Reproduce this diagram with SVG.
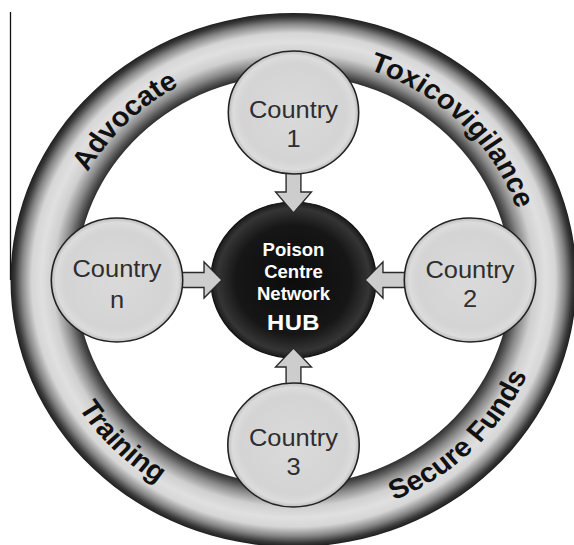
<svg xmlns="http://www.w3.org/2000/svg" width="574" height="545" viewBox="0 0 574 545">
  <defs>
    <radialGradient id="ringGrad" gradientUnits="userSpaceOnUse" cx="0" cy="0" r="267">
      <stop offset="0.768" stop-color="#2e2e2e"/>
      <stop offset="0.785" stop-color="#505050"/>
      <stop offset="0.81" stop-color="#888"/>
      <stop offset="0.85" stop-color="#cfcfcf"/>
      <stop offset="0.89" stop-color="#e0e0e0"/>
      <stop offset="0.925" stop-color="#d6d6d6"/>
      <stop offset="0.96" stop-color="#858585"/>
      <stop offset="0.985" stop-color="#383838"/>
      <stop offset="1" stop-color="#1e1e1e"/>
    </radialGradient>
    <radialGradient id="hubGrad" cx="0.5" cy="0.5" r="0.5">
      <stop offset="0" stop-color="#0c0c0c"/>
      <stop offset="0.7" stop-color="#161616"/>
      <stop offset="0.92" stop-color="#353535"/>
      <stop offset="1" stop-color="#1a1a1a"/>
    </radialGradient>
    <radialGradient id="countryGrad" cx="0.5" cy="0.5" r="0.5">
      <stop offset="0" stop-color="#dadada"/>
      <stop offset="0.8" stop-color="#d4d4d4"/>
      <stop offset="0.93" stop-color="#dcdcdc"/>
      <stop offset="1" stop-color="#bdbdbd"/>
    </radialGradient>
    <path id="pAdvocate" d="M -157,157 A 222 222 0 0 1 -157,-157 A 222 222 0 0 1 157,-157"/>
    <path id="pToxico" d="M -157,-157 A 222 222 0 0 1 157,-157 A 222 222 0 0 1 157,157"/>
    <path id="pTraining" d="M -169.7,-169.7 A 240 240 0 0 0 -169.7,169.7 A 240 240 0 0 0 169.7,169.7"/>
    <path id="pSecure" d="M -169.7,169.7 A 240 240 0 0 0 169.7,169.7 A 240 240 0 0 0 169.7,-169.7"/>
  </defs>
  <style>
    .ringtxt { font-family: "Liberation Sans", Arial, sans-serif; font-weight: bold; font-size: 27.5px; fill: #111; }
    .hubtxt { font-family: "Liberation Sans", Arial, sans-serif; font-weight: bold; fill: #fff; text-anchor: middle; }
    .ctxt { font-family: "Liberation Sans", Arial, sans-serif; font-size: 24px; fill: #2e2e2e; text-anchor: middle; }
    .country { fill: url(#countryGrad); stroke: #222; stroke-width: 1.5; }
    .arrow { fill: #cdcdcd; stroke: #2a2a2a; stroke-width: 1.3; stroke-linejoin: miter; }
  </style>
  <rect width="574" height="545" fill="#fff"/>
  <line x1="10.5" y1="12" x2="10.5" y2="280" stroke="#111" stroke-width="1.3"/>
  <g transform="translate(293.5,280) scale(1.06,1)">
    <g id="ring">
      <path d="M 0,-267 A 267 267 0 1 1 0,267 A 267 267 0 1 1 0,-267 Z M 0,-205 A 205 205 0 1 0 0,205 A 205 205 0 1 0 0,-205 Z" fill="url(#ringGrad)" fill-rule="evenodd"/>
      <text class="ringtxt"><textPath href="#pAdvocate" startOffset="50%" text-anchor="middle">Advocate</textPath></text>
      <text class="ringtxt"><textPath href="#pToxico" startOffset="50%" text-anchor="middle">Toxicovigilance</textPath></text>
      <text class="ringtxt"><textPath href="#pTraining" startOffset="50%" text-anchor="middle">Training</textPath></text>
      <text class="ringtxt"><textPath href="#pSecure" startOffset="50%" text-anchor="middle">Secure Funds</textPath></text>
    </g>
    <g id="hub">
      <circle cx="0" cy="0" r="78" fill="url(#hubGrad)" stroke="#111" stroke-width="1.2"/>
      <text class="hubtxt" x="0" y="-24" font-size="17.5">Poison</text>
      <text class="hubtxt" x="0" y="-2" font-size="17.5">Centre</text>
      <text class="hubtxt" x="0" y="20" font-size="17.5">Network</text>
      <text class="hubtxt" x="0" y="50" font-size="22.5" letter-spacing="0.5">HUB</text>
    </g>
    <g id="connectors">
      <polygon class="arrow" points="-7,-115 7,-115 7,-88 17,-88 0,-67 -17,-88 -7,-88"/>
      <polygon class="arrow" points="-7,115 7,115 7,87 17,87 0,68 -17,87 -7,87"/>
      <polygon class="arrow" points="-115,-7.5 -84.4,-7.5 -84.4,-18 -67.5,0 -84.4,18 -84.4,7.5 -115,7.5"/>
      <polygon class="arrow" points="115,-7.5 84.4,-7.5 84.4,-18 67.5,0 84.4,18 84.4,7.5 115,7.5"/>
    </g>
    <g id="country1">
      <circle class="country" cx="0" cy="-167.5" r="61.5"/>
      <text class="ctxt" x="0" y="-162">Country</text>
      <text class="ctxt" x="0" y="-133">1</text>
    </g>
    <g id="country2">
      <circle class="country" cx="166.5" cy="0" r="62"/>
      <text class="ctxt" x="166.5" y="-2">Country</text>
      <text class="ctxt" x="166.5" y="27">2</text>
    </g>
    <g id="country3">
      <circle class="country" cx="0" cy="165" r="62"/>
      <text class="ctxt" x="0" y="166">Country</text>
      <text class="ctxt" x="0" y="195">3</text>
    </g>
    <g id="countryn">
      <circle class="country" cx="-166.5" cy="0" r="62"/>
      <text class="ctxt" x="-166.5" y="-3">Country</text>
      <text class="ctxt" x="-166.5" y="28">n</text>
    </g>
  </g>
</svg>
